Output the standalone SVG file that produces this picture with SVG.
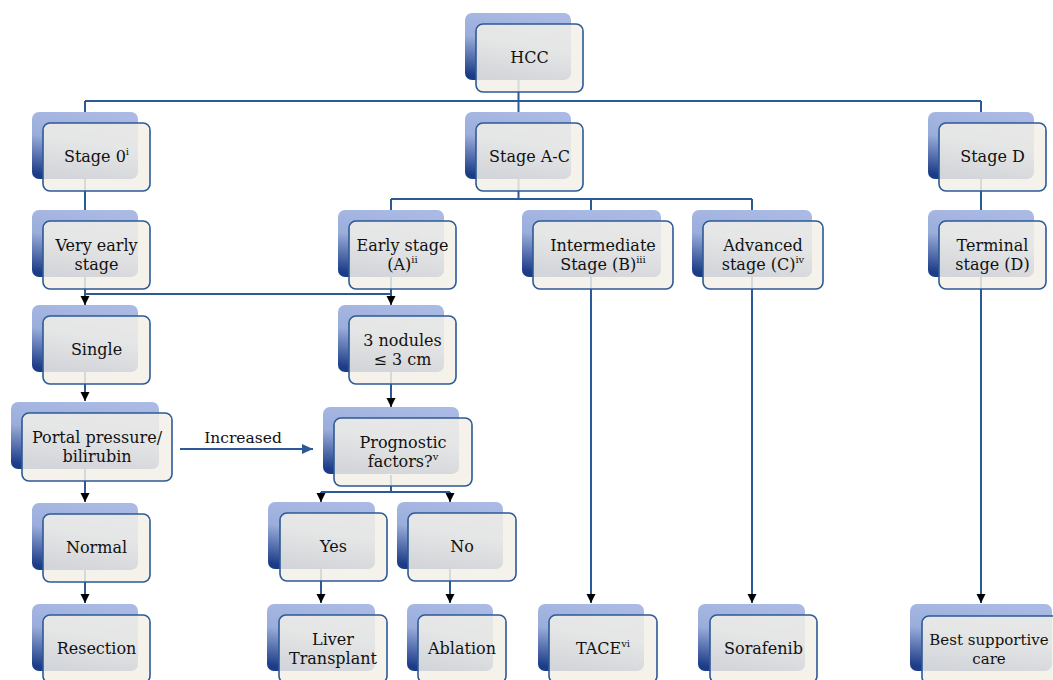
<svg xmlns="http://www.w3.org/2000/svg" width="1053" height="680" viewBox="0 0 1053 680">
<style>
.bk{fill:url(#bg);}
.fr{fill:#f2f0e8;fill-opacity:0.85;stroke:#2c5a96;stroke-width:1.6;}
.t{font-family:"DejaVu Serif","Liberation Serif",serif;font-size:16px;fill:#111;text-anchor:middle;}
.sup{font-size:10px;}
.c{fill:none;stroke:#2c5a96;stroke-width:2;}
.ca{fill:none;stroke:#2c5a96;stroke-width:2;marker-end:url(#ah);}
.lbl{font-family:"DejaVu Serif","Liberation Serif",serif;font-size:15.5px;fill:#111;text-anchor:middle;}
</style>
<defs>
<linearGradient id="bg" x1="0.6" y1="0" x2="0.35" y2="1">
<stop offset="0" stop-color="#aabae4"/>
<stop offset="0.45" stop-color="#9aaddb"/>
<stop offset="1" stop-color="#1d3c88"/>
</linearGradient>
<marker id="ah" markerUnits="userSpaceOnUse" markerWidth="10" markerHeight="10" refX="9" refY="5" orient="auto" viewBox="0 0 10 10">
<path d="M0,0.5 L9,5 L0,9.5 z" fill="#000"/>
</marker>
<marker id="ahb" markerUnits="userSpaceOnUse" markerWidth="12" markerHeight="12" refX="11" refY="6" orient="auto" viewBox="0 0 12 12">
<path d="M0,1 L11,6 L0,11 z" fill="#2c5a96"/>
</marker>
</defs>
<rect width="1053" height="680" fill="#fff"/>
<g id="connectors">
<path class="c" d="M518.5,80 V101 M85,101 H981 M85,101 V112 M518.5,101 V112 M981,101 V112"/>
<path class="c" d="M85,178 V210 M981,178 V210 M518.5,178 V199 M391,199 H752 M391,199 V210 M591,199 V210 M752,199 V210"/>
<path class="c" d="M85,294 H391"/>
<path class="ca" d="M85,277 V305"/>
<path class="ca" d="M391,277 V305"/>
<path class="ca" d="M85,372 V401"/>
<path class="ca" d="M391,372 V407"/>
<path class="ca" d="M85,468 V502"/>
<path d="M180,449 H313" fill="none" stroke="#2c5a96" stroke-width="2" marker-end="url(#ahb)"/>
<path class="c" d="M391,475 V492 M321,492 H450"/>
<path class="ca" d="M321,492 V502"/>
<path class="ca" d="M450,492 V502"/>
<path class="ca" d="M85,570 V603"/>
<path class="ca" d="M321,569 V603"/>
<path class="ca" d="M450,569 V603"/>
<path class="ca" d="M591,277 V603"/>
<path class="ca" d="M752,277 V603"/>
<path class="ca" d="M981,277 V603"/>
<text class="lbl" x="243" y="443">Increased</text>
</g>
<g id="n-hcc"><rect class="bk" x="465" y="13" width="106" height="67" rx="7"/><rect class="fr" x="476" y="24" width="107" height="68" rx="7"/><text class="t" x="529.5" y="63">HCC</text></g>
<g id="n-stage0"><rect class="bk" x="32" y="112" width="106" height="67" rx="7"/><rect class="fr" x="43" y="123" width="107" height="68" rx="7"/><text class="t" x="96.5" y="162">Stage 0<tspan class="sup" dy="-7">i</tspan></text></g>
<g id="n-stageac"><rect class="bk" x="465" y="112" width="106" height="67" rx="7"/><rect class="fr" x="476" y="123" width="107" height="68" rx="7"/><text class="t" x="529.5" y="162">Stage A-C</text></g>
<g id="n-staged"><rect class="bk" x="928" y="112" width="106" height="67" rx="7"/><rect class="fr" x="939" y="123" width="107" height="68" rx="7"/><text class="t" x="992.5" y="162">Stage D</text></g>
<g id="n-veryearly"><rect class="bk" x="32" y="210" width="106" height="67" rx="7"/><rect class="fr" x="43" y="221" width="107" height="68" rx="7"/><text class="t" x="96.5" y="251">Very early</text><text class="t" x="96.5" y="270">stage</text></g>
<g id="n-early"><rect class="bk" x="338" y="210" width="106" height="67" rx="7"/><rect class="fr" x="349" y="221" width="107" height="68" rx="7"/><text class="t" x="402.5" y="251">Early stage</text><text class="t" x="402.5" y="270">(A)<tspan class="sup" dy="-7">ii</tspan></text></g>
<g id="n-intermediate"><rect class="bk" x="522" y="210" width="139" height="67" rx="7"/><rect class="fr" x="533" y="221" width="140" height="68" rx="7"/><text class="t" x="603" y="251">Intermediate</text><text class="t" x="603" y="270">Stage (B)<tspan class="sup" dy="-7">iii</tspan></text></g>
<g id="n-advanced"><rect class="bk" x="692" y="210" width="120" height="67" rx="7"/><rect class="fr" x="703" y="221" width="120" height="68" rx="7"/><text class="t" x="763" y="251">Advanced</text><text class="t" x="763" y="270">stage (C)<tspan class="sup" dy="-7">iv</tspan></text></g>
<g id="n-terminal"><rect class="bk" x="928" y="210" width="106" height="67" rx="7"/><rect class="fr" x="939" y="221" width="107" height="68" rx="7"/><text class="t" x="992.5" y="251">Terminal</text><text class="t" x="992.5" y="270">stage (D)</text></g>
<g id="n-single"><rect class="bk" x="32" y="305" width="106" height="67" rx="7"/><rect class="fr" x="43" y="316" width="107" height="68" rx="7"/><text class="t" x="96.5" y="355">Single</text></g>
<g id="n-nodules"><rect class="bk" x="338" y="305" width="106" height="67" rx="7"/><rect class="fr" x="349" y="316" width="107" height="68" rx="7"/><text class="t" x="402.5" y="346">3 nodules</text><text class="t" x="402.5" y="365">≤ 3 cm</text></g>
<g id="n-portal"><rect class="bk" x="11" y="402" width="148" height="67" rx="7"/><rect class="fr" x="22" y="413" width="150" height="68" rx="7"/><text class="t" x="97" y="443">Portal pressure/</text><text class="t" x="97" y="462">bilirubin</text></g>
<g id="n-prognostic"><rect class="bk" x="323" y="407" width="136" height="67" rx="7"/><rect class="fr" x="334" y="418" width="138" height="68" rx="7"/><text class="t" x="403" y="448">Prognostic</text><text class="t" x="403" y="467">factors?<tspan class="sup" dy="-7">v</tspan></text></g>
<g id="n-normal"><rect class="bk" x="32" y="503" width="106" height="67" rx="7"/><rect class="fr" x="43" y="514" width="107" height="68" rx="7"/><text class="t" x="96.5" y="553">Normal</text></g>
<g id="n-yes"><rect class="bk" x="268" y="502" width="107" height="67" rx="7"/><rect class="fr" x="280" y="513" width="107" height="68" rx="7"/><text class="t" x="333.5" y="552">Yes</text></g>
<g id="n-no"><rect class="bk" x="397" y="502" width="106" height="67" rx="7"/><rect class="fr" x="408" y="513" width="108" height="68" rx="7"/><text class="t" x="462" y="552">No</text></g>
<g id="n-resection"><rect class="bk" x="32" y="604" width="106" height="67" rx="7"/><rect class="fr" x="43" y="615" width="107" height="68" rx="7"/><text class="t" x="96.5" y="654">Resection</text></g>
<g id="n-liver"><rect class="bk" x="267" y="604" width="108" height="67" rx="7"/><rect class="fr" x="279" y="615" width="108" height="68" rx="7"/><text class="t" x="333" y="645">Liver</text><text class="t" x="333" y="664">Transplant</text></g>
<g id="n-ablation"><rect class="bk" x="407" y="604" width="86" height="67" rx="7"/><rect class="fr" x="418" y="615" width="88" height="68" rx="7"/><text class="t" x="462" y="654">Ablation</text></g>
<g id="n-tace"><rect class="bk" x="538" y="604" width="106" height="67" rx="7"/><rect class="fr" x="549" y="615" width="108" height="68" rx="7"/><text class="t" x="603" y="654">TACE<tspan class="sup" dy="-7">vi</tspan></text></g>
<g id="n-sorafenib"><rect class="bk" x="698" y="604" width="107" height="67" rx="7"/><rect class="fr" x="710" y="615" width="107" height="68" rx="7"/><text class="t" x="763.5" y="654">Sorafenib</text></g>
<g id="n-best"><rect class="bk" x="910" y="604" width="142" height="67" rx="7"/><rect class="fr" x="922" y="616" width="143" height="68" rx="7"/><text class="t" x="989" y="645" style="font-size:15px">Best supportive</text><text class="t" x="989" y="664" style="font-size:15px">care</text></g>
</svg>
